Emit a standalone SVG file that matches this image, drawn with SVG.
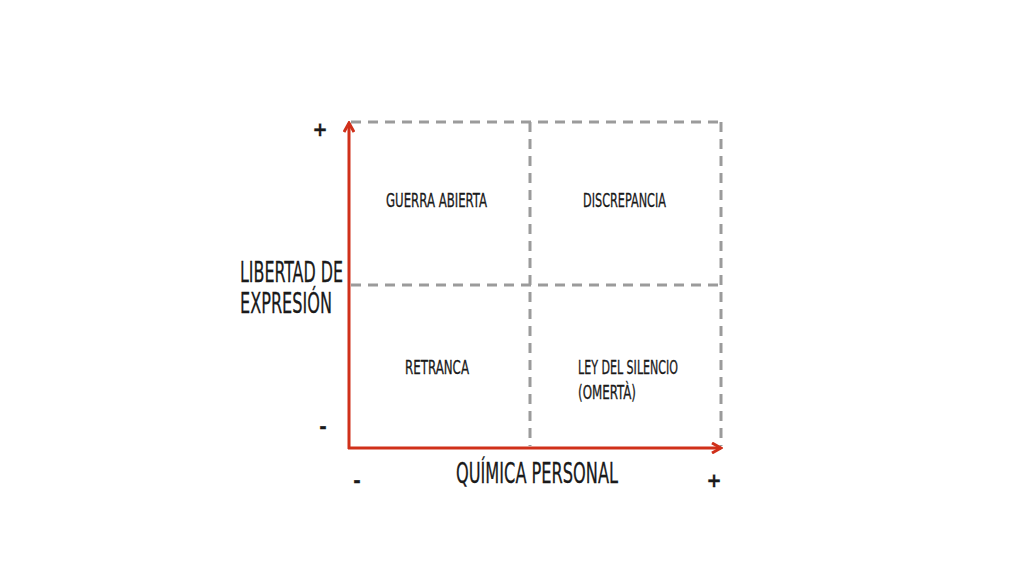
<svg xmlns="http://www.w3.org/2000/svg" width="1024" height="576" viewBox="0 0 1024 576">
<style>
.grid{stroke:#9b9b9b;stroke-width:3;stroke-dasharray:10 7;fill:none}
.axis{stroke:#d0301a;stroke-width:3;fill:none}
text{font-family:"DejaVu Sans Condensed","Liberation Sans",sans-serif;fill:#1a1a1a;stroke:#1a1a1a;stroke-width:0.3}
.q{font-size:19px}
.lab{font-size:29px}
.sign{font-size:20px;font-weight:bold}
</style>
<defs>
<marker id="ah" viewBox="0 0 12 12" refX="10" refY="6" markerWidth="12" markerHeight="12" markerUnits="userSpaceOnUse" orient="auto">
<path d="M1,1 L10,6 L1,11" fill="none" stroke="#d0301a" stroke-width="3"/>
</marker>
</defs>
<rect width="1024" height="576" fill="#fff"/>
<g id="grid-lines">
<line class="grid" x1="351" y1="122" x2="721" y2="122"/>
<line class="grid" x1="721" y1="122" x2="721" y2="446"/>
<line class="grid" x1="530" y1="122" x2="530" y2="446"/>
<line class="grid" x1="351" y1="285" x2="721" y2="285"/>
</g>
<g id="connectors">
<line class="axis" x1="349" y1="449" x2="349" y2="123" marker-end="url(#ah)"/>
<line class="axis" x1="348" y1="448" x2="721" y2="448" marker-end="url(#ah)"/>
</g>
<g id="q1"><text class="q" x="386" y="207" textLength="101" lengthAdjust="spacingAndGlyphs">GUERRA ABIERTA</text></g>
<g id="q2"><text class="q" x="583" y="207" textLength="83" lengthAdjust="spacingAndGlyphs">DISCREPANCIA</text></g>
<g id="q3"><text class="q" x="405" y="374" textLength="64" lengthAdjust="spacingAndGlyphs">RETRANCA</text></g>
<g id="q4">
<text class="q" x="578" y="374" textLength="100" lengthAdjust="spacingAndGlyphs">LEY DEL SILENCIO</text>
<text class="q" x="578" y="399" textLength="58" lengthAdjust="spacingAndGlyphs">(OMERTÀ)</text>
</g>
<g id="y-label">
<text class="lab" x="240" y="282" textLength="103" lengthAdjust="spacingAndGlyphs">LIBERTAD DE</text>
<text class="lab" x="240" y="313" textLength="92" lengthAdjust="spacingAndGlyphs">EXPRESIÓN</text>
</g>
<g id="x-label"><text class="lab" x="456" y="483" textLength="162" lengthAdjust="spacingAndGlyphs">QUÍMICA PERSONAL</text></g>
<g id="signs">
<text class="sign" x="320" y="136" text-anchor="middle">+</text>
<text class="sign" x="323" y="433" text-anchor="middle">-</text>
<text class="sign" x="357" y="487" text-anchor="middle">-</text>
<text class="sign" x="714" y="487" text-anchor="middle">+</text>
</g>
</svg>
